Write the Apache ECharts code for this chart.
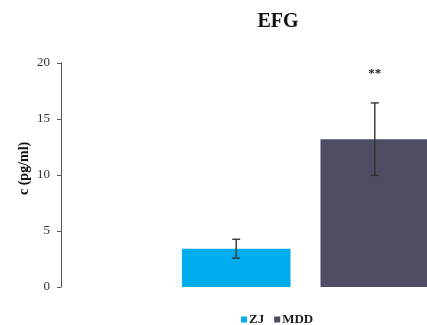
<!DOCTYPE html>
<html>
<head>
<meta charset="utf-8">
<script src="https://cdn.jsdelivr.net/npm/echarts@6/dist/echarts.min.js"></script>
<style>html,body{margin:0;padding:0;background:#fff;}#c{width:427px;height:325px;}</style>
</head>
<body>
<div id="c"></div>
<script>
var categories = [''];
var seriesNames = ['ZJ', 'MDD'];
var zjValues = [3.42];
var mddValues = [13.19];
var zjErr = [0.84];
var mddErr = [3.23];
var sigLabels = ['', '**'];
var yTicks = [0, 5, 10, 15, 20];

var colors = ['#00AEEF', '#4D4D63'];
var BAR_W = 108.6, GAP = 30;
var serif = '"Liberation Serif","DejaVu Serif",serif';

var chart = echarts.init(document.getElementById('c'));

function errSeries(idx, vals, errs) {
  var offset = (idx === 0 ? -1 : 1) * (BAR_W + GAP) / 2;
  return {
    type: 'custom',
    name: seriesNames[idx] + '_err',
    data: vals.map(function (v, i) { return [i, v - errs[i], v + errs[i], v]; }),
    encode: { x: 0, y: [1, 2] },
    z: 10,
    clip: false,
    renderItem: function (params, api) {
      var lo = api.coord([api.value(0), api.value(1)]);
      var hi = api.coord([api.value(0), api.value(2)]);
      var x = lo[0] + offset;
      var cap = 4;
      var st = { stroke: '#333', lineWidth: 1.4 };
      var children = [
        { type: 'line', shape: { x1: x, y1: lo[1], x2: x, y2: hi[1] }, style: st },
        { type: 'line', shape: { x1: x - cap, y1: lo[1], x2: x + cap, y2: lo[1] }, style: st },
        { type: 'line', shape: { x1: x - cap, y1: hi[1], x2: x + cap, y2: hi[1] }, style: st }
      ];
      var lbl = sigLabels[idx];
      if (lbl) {
        children.push({ type: 'text', style: { text: lbl, x: x, y: hi[1] - 29, textAlign: 'center', textVerticalAlign: 'middle', font: 'bold 13px ' + serif, fill: '#222' } });
      }
      return { type: 'group', children: children };
    },
    silent: true,
    tooltip: { show: false }
  };
}

chart.setOption({
  animation: false,
  title: {
    text: 'EFG',
    left: 273,
    textAlign: 'center',
    top: 7,
    textStyle: { fontFamily: serif, fontWeight: 'bold', fontSize: 20, color: '#111' }
  },
  legend: {
    data: seriesNames,
    left: 236,
    top: 308,
    itemWidth: 6,
    itemHeight: 6,
    itemGap: 10,
    icon: 'rect',
    textStyle: { fontFamily: serif, fontWeight: 'bold', fontSize: 13, color: '#222', padding: [0, 0, 0, -3] }
  },
  grid: { left: 61, top: 62.8, right: -123, bottom: 38, containLabel: false, outerBoundsMode: 'none' },
  xAxis: {
    type: 'category',
    data: categories,
    axisLine: { show: false },
    axisTick: { show: false },
    axisLabel: { show: false }
  },
  yAxis: {
    type: 'value',
    min: 0,
    max: 20,
    interval: 5,
    name: 'c (pg/ml)',
    nameLocation: 'middle',
    nameGap: 30,
    nameMoveOverlap: false,
    nameTextStyle: { fontFamily: serif, fontWeight: 'bold', fontSize: 14, color: '#111', padding: [0, 0, 0, 13] },
    axisLine: { show: true, lineStyle: { color: '#555', width: 1 } },
    axisTick: { show: true, length: 4, lineStyle: { color: '#555' } },
    axisLabel: { fontFamily: serif, fontSize: 13, color: '#333', margin: 11,
      formatter: function (v) { return yTicks.indexOf(v) >= 0 ? String(v) : ''; } },
    splitLine: { show: false }
  },
  series: [
    { type: 'bar', name: seriesNames[0], data: zjValues, barWidth: BAR_W, barGap: (GAP / BAR_W * 100) + '%', itemStyle: { color: colors[0] } },
    { type: 'bar', name: seriesNames[1], data: mddValues, barWidth: BAR_W, barGap: (GAP / BAR_W * 100) + '%', itemStyle: { color: colors[1] } },
    errSeries(0, zjValues, zjErr),
    errSeries(1, mddValues, mddErr)
  ]
});
</script>
</body>
</html>
